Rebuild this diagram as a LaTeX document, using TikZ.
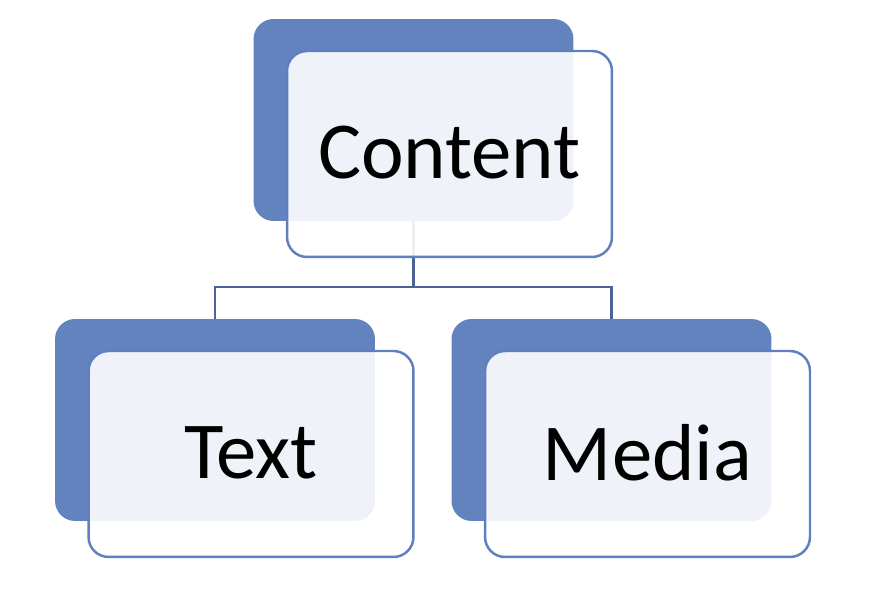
\documentclass[tikz,border=0pt]{standalone}
\usepackage{fontspec}
\setmainfont{Carlito}
\usepackage{tikz}
\usetikzlibrary{positioning, calc}
\definecolor{orgback}{HTML}{6383BE}
\definecolor{orgedge}{HTML}{5F7FC0}
\definecolor{orglink}{HTML}{4A6496}

\begin{document}
\begin{tikzpicture}[x=0.02cm, y=-0.02cm,
    backbox/.style={rectangle, rounded corners=0.4cm, fill=orgback,
                    minimum width=6.4cm, minimum height=4.04cm, inner sep=0pt},
    frontbox/.style={rectangle, rounded corners=0.4cm, draw=orgedge, line width=1.4pt,
                     fill=white, fill opacity=0.9, text opacity=1,
                     minimum width=6.5cm, minimum height=4.12cm, inner sep=0pt,
                     font=\fontsize{46}{50}\selectfont},
    link/.style={draw=orglink, line width=1.4pt}
]
\useasboundingbox (0,0) rectangle (875,590);

% back layer
\node[backbox] (contentback) at (413.5,120) {};
\node[backbox] (textback)    at (215,420)   {};
\node[backbox] (mediaback)   at (611.5,420) {};

% tree lines
\coordinate (fork) at (413.5,287);
\draw[link] (contentback.south) -- (fork);
\draw[link] (fork) -| (textback.north);
\draw[link] (fork) -| (mediaback.north);

% front layer
\node[frontbox] (content) at (449.5,154) {\raisebox{2pt}{Content}};
\node[frontbox] (text)    at (251,454)   {\raisebox{2pt}{Text}};
\node[frontbox] (media)   at (647.5,454) {\raisebox{2pt}{Media}};
\end{tikzpicture}
\end{document}
